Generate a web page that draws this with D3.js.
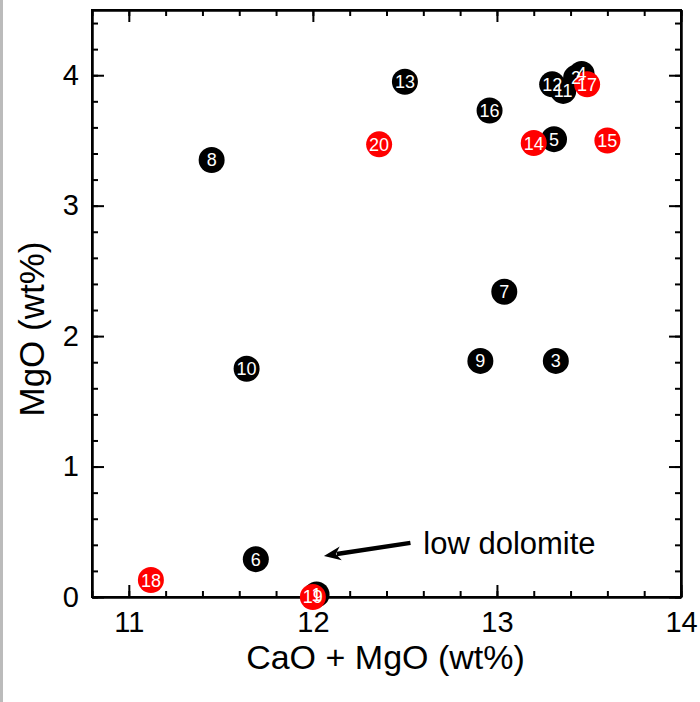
<!DOCTYPE html>
<meta charset="utf-8">
<script src="https://d3js.org/d3.v7.min.js"></script>
<style>
body { margin: 0; background: #fff; }
svg { display: block; font-family: "Liberation Sans", Arial, sans-serif; }
.axis path { stroke: #000; stroke-width: 2px; }
.axis line { stroke: #000; stroke-width: 2px; }
.axis text { font-size: 29px; fill: #000; }
.ptLabel { fill: #fff; font-size: 18px; text-anchor: middle; }
</style>
<body>
<script>

// sample ids, CaO+MgO and MgO (wt%)
var blackIds = ["13", "12", "2", "4", "11", "16", "5", "8", "7", "9", "3", "10", "6", "1"];
var blackX   = [12.50, 13.30, 13.43, 13.46, 13.36, 12.96, 13.31, 11.45, 13.04, 12.91, 13.32, 11.64, 11.69, 12.02];
var blackY   = [3.95, 3.93, 3.98, 4.01, 3.88, 3.73, 3.51, 3.35, 2.34, 1.81, 1.81, 1.75, 0.29, 0.02];

var redIds = ["20", "14", "15", "17", "18", "19"];
var redX   = [12.36, 13.20, 13.60, 13.49, 11.12, 12.00];
var redY   = [3.47, 3.48, 3.50, 3.93, 0.13, 0.00];

var xTicks = [11, 12, 13, 14];
var yTicks = [0, 1, 2, 3, 4];

var margin = {top: 10, right: 19, bottom: 105, left: 92};
var width = 700 - margin.left - margin.right,
    height = 702 - margin.top - margin.bottom;

var svg = d3.select("body").append("svg")
    .attr("width", 700)
    .attr("height", 702);

// grey strip on the left edge
svg.append("rect")
    .attr("x", 0).attr("y", 0)
    .attr("width", 3).attr("height", 702)
    .style("fill", "#bbb");

var g = svg.append("g")
    .attr("transform", "translate(" + margin.left + "," + margin.top + ")");

var xScale = d3.scaleLinear().domain([10.8, 14]).range([0, width]);
var yScale = d3.scaleLinear().domain([0, 4.5]).range([height, 0]);

var xMinor = d3.range(10.8, 14.001, 0.2);
var yMinor = d3.range(0, 4.501, 0.2);

function addAxis(axisFn, scale, tr, ticks, size, labels, pad) {
    var ax = axisFn(scale)
        .tickValues(ticks)
        .tickSizeInner(-size)
        .tickSizeOuter(0)
        .tickPadding(pad || 0)
        .tickFormat(labels ? d3.format("d") : "");
    return g.append("g")
        .attr("class", "axis")
        .attr("transform", tr)
        .call(ax);
}

// minor ticks on all four sides
addAxis(d3.axisBottom, xScale, "translate(0," + height + ")", xMinor, 6, false);
addAxis(d3.axisTop, xScale, "translate(0,0)", xMinor, 6, false);
addAxis(d3.axisLeft, yScale, "translate(0,0)", yMinor, 6, false);
addAxis(d3.axisRight, yScale, "translate(" + width + ",0)", yMinor, 6, false);

// major ticks
addAxis(d3.axisBottom, xScale, "translate(0," + height + ")", xTicks, 12, true, 14);
addAxis(d3.axisTop, xScale, "translate(0,0)", xTicks, 12, false);
addAxis(d3.axisLeft, yScale, "translate(0,0)", yTicks, 12, true, 13);
addAxis(d3.axisRight, yScale, "translate(" + width + ",0)", yTicks, 12, false);

// frame
g.append("rect")
    .attr("width", width)
    .attr("height", height)
    .style("fill", "none")
    .style("stroke", "#000")
    .style("stroke-width", 2);

var blackData = blackIds.map(function(d, i) { return {id: d, x: blackX[i], y: blackY[i], c: "#000"}; });
var redData = redIds.map(function(d, i) { return {id: d, x: redX[i], y: redY[i], c: "#f00"}; });
var allData = blackData.concat(redData);

var radius = 13;

g.selectAll(".pt")
    .data(allData)
    .enter()
    .append("circle")
    .attr("class", "pt")
    .attr("cx", function(d) { return xScale(d.x); })
    .attr("cy", function(d) { return yScale(d.y); })
    .attr("r", radius)
    .style("fill", function(d) { return d.c; });

g.selectAll(".ptLabel")
    .data(allData)
    .enter()
    .append("text")
    .attr("class", "ptLabel")
    .attr("x", function(d) { return xScale(d.x); })
    .attr("y", function(d) { return yScale(d.y); })
    .attr("dy", "0.36em")
    .text(function(d) { return d.id; });

// arrow annotation
var tail = [xScale(12.53), yScale(0.415)],
    tip = [xScale(12.06), yScale(0.315)];
var ang = Math.atan2(tip[1] - tail[1], tip[0] - tail[0]);
var headLen = 17, headW = 7;
var base = [tip[0] - headLen * Math.cos(ang), tip[1] - headLen * Math.sin(ang)];

g.append("line")
    .attr("x1", tail[0]).attr("y1", tail[1])
    .attr("x2", base[0] + 4 * Math.cos(ang)).attr("y2", base[1] + 4 * Math.sin(ang))
    .style("stroke", "#000")
    .style("stroke-width", 4.5);

g.append("path")
    .attr("d", "M" + tip[0] + "," + tip[1] +
        "L" + (base[0] + headW * Math.sin(ang)) + "," + (base[1] - headW * Math.cos(ang)) +
        "L" + (base[0] + 5 * Math.cos(ang)) + "," + (base[1] + 5 * Math.sin(ang)) +
        "L" + (base[0] - headW * Math.sin(ang)) + "," + (base[1] + headW * Math.cos(ang)) + "Z")
    .style("fill", "#000");

g.append("text")
    .attr("x", xScale(12.6))
    .attr("y", yScale(0.33))
    .style("font-size", "31px")
    .text("low dolomite");

// axis titles
svg.append("text")
    .attr("x", margin.left + width / 2 - 1)
    .attr("y", 669)
    .attr("text-anchor", "middle")
    .style("font-size", "34px")
    .text("CaO + MgO (wt%)");

svg.append("text")
    .attr("transform", "translate(44,329) rotate(-90)")
    .attr("text-anchor", "middle")
    .style("font-size", "35px")
    .text("MgO (wt%)");

</script>
</body>
